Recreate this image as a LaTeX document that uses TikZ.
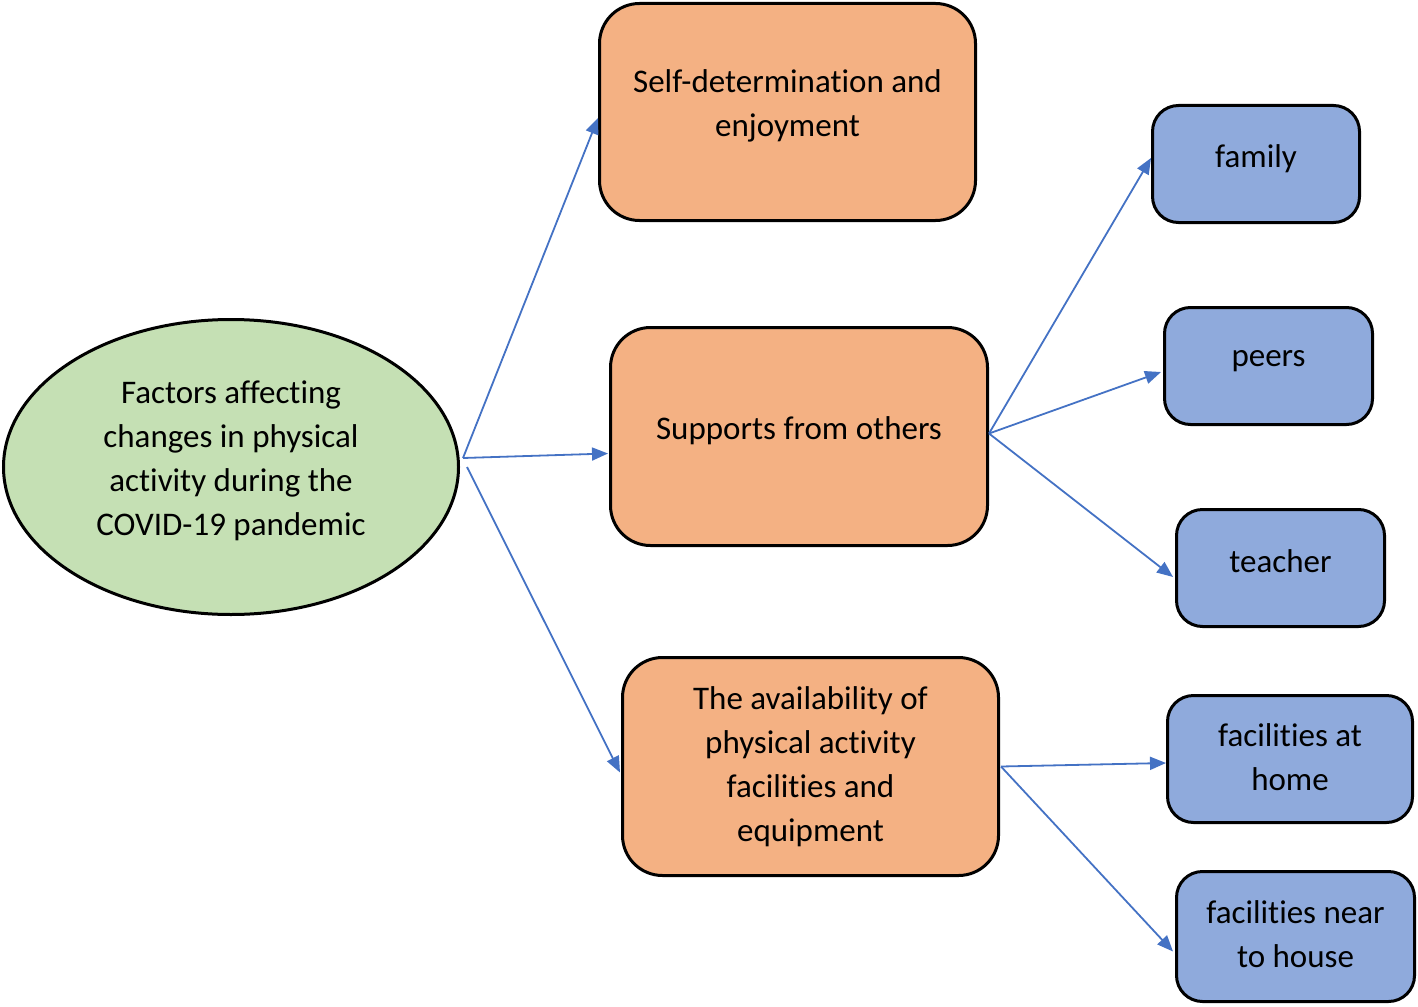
\documentclass[tikz,border=0pt]{standalone}
\usepackage{fontspec}
\setmainfont{Carlito}[Ligatures={NoCommon}]
\usetikzlibrary{shapes.geometric,arrows.meta}
\definecolor{orangefill}{HTML}{F4B183}
\definecolor{bluefill}{HTML}{8FAADC}
\definecolor{greenfill}{HTML}{C5E0B4}
\definecolor{arrowblue}{HTML}{4472C4}
\tikzset{
  bigbox/.style={draw=black, line width=3pt, fill=orangefill, rounded corners=40pt, inner sep=0pt},
  smallbox/.style={draw=black, line width=3pt, fill=bluefill, rounded corners=26pt, inner sep=0pt},
  oval/.style={draw=black, line width=3pt, fill=greenfill, ellipse, inner sep=0pt},
  txt/.style={align=center, font=\fontsize{33}{44}\selectfont, inner sep=0pt},
  conn/.style={draw=arrowblue, line width=1.8pt, -{Triangle[length=16pt,width=13pt]}}
}
\begin{document}
\begin{tikzpicture}[x=1pt,y=-1pt]
\useasboundingbox (0,0) rectangle (1418,1006);
% main nodes
\node[oval, minimum width=455pt, minimum height=295pt] (ell) at (231,467) {};
\node[txt] (ellt) at (231,461) {Factors affecting\\changes in physical\\activity during the\\COVID-19 pandemic};
\node[bigbox, minimum width=376pt, minimum height=217pt] (b1) at (787.5,112) {};
\node[txt] (b1t) at (787.5,106) {Self-determination and\\enjoyment};
\node[bigbox, minimum width=377pt, minimum height=218pt] (b2) at (799,436.5) {};
\node[txt] (b2t) at (799,431) {Supports from others};
\node[bigbox, minimum width=376pt, minimum height=218pt] (b3) at (810.5,766.5) {};
\node[txt] (b3t) at (810.5,767) {The availability of\\physical activity\\facilities and\\equipment};
% sub nodes
\node[smallbox, minimum width=207pt, minimum height=117pt] (fam) at (1256,164) {};
\node[txt] (famt) at (1256,159) {family};
\node[smallbox, minimum width=208pt, minimum height=117pt] (peer) at (1268.5,366) {};
\node[txt] (peert) at (1268.5,361) {peers};
\node[smallbox, minimum width=208pt, minimum height=117pt] (teach) at (1280.5,568) {};
\node[txt] (teacht) at (1280.5,561) {teacher};
\node[smallbox, minimum width=245pt, minimum height=127pt] (home) at (1290,759) {};
\node[txt] (homet) at (1290,757) {facilities at\\home};
\node[smallbox, minimum width=238pt, minimum height=130pt] (near) at (1295.5,936.5) {};
\node[txt] (neart) at (1295.5,934) {facilities near\\to house};
% connectors
\draw[conn] ([xshift=3pt,yshift=9pt]ell.east) -- ([yshift=-6pt]b1.west);
\draw[conn] ([xshift=3pt,yshift=9pt]ell.east) -- ([xshift=-1pt,yshift=-17pt]b2.west);
\draw[conn] ([xshift=7pt]ell.east) -- ([xshift=-1pt,yshift=-6pt]b3.west);
\draw[conn] ([yshift=3pt]b2.east) -- ([yshift=6pt]fam.west);
\draw[conn] ([yshift=3pt]b2.east) -- ([xshift=-2pt,yshift=-6pt]peer.west);
\draw[conn] ([yshift=3pt]b2.east) -- ([xshift=-2pt,yshift=-9pt]teach.west);
\draw[conn] ([xshift=1pt]b3.east) -- ([yshift=-4pt]home.west);
\draw[conn] ([xshift=1pt]b3.east) -- ([xshift=-2pt,yshift=-15pt]near.west);
\end{tikzpicture}
\end{document}
